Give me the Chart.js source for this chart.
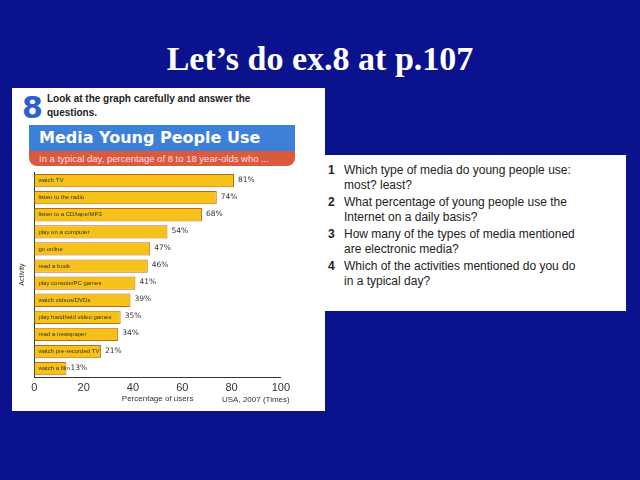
<!DOCTYPE html>
<html><head><meta charset="utf-8">
<script src="https://cdn.jsdelivr.net/npm/chart.js@4"></script>
<style>
body{margin:0;width:640px;height:480px;background:#0a128e;position:relative;overflow:hidden;font-family:"Liberation Sans",Arial,sans-serif}
#t{position:absolute;top:40px;width:640px;text-align:center;color:#fff;font:bold 34px "Liberation Serif",serif}
#p1{position:absolute;left:12px;top:88px;width:313px;height:323px;background:#fff}
#p2{position:absolute;left:322px;top:155px;width:304px;height:156px;background:#fff;font-size:12px;color:#222;line-height:15px}
.q{position:absolute;left:6px}
.q b{display:inline-block;width:16px}
#ban{position:absolute;left:29px;top:125px;width:266px;height:26px;background:#3d80d8;color:#fff;font:bold 16px "DejaVu Sans",sans-serif;line-height:26px;padding-left:10px;box-sizing:border-box}
#sub{position:absolute;left:29px;top:151px;width:266px;height:15px;background:#d95a3c;color:#fde;font-size:9.5px;line-height:15px;padding-left:10px;box-sizing:border-box;border-radius:0 0 8px 8px}
#c{position:absolute;left:18px;top:172px}
</style></head><body>
<div id="t">Let’s do ex.8 at p.107</div>
<div id="p1"></div>
<div style="position:absolute;left:22px;top:90px;color:#2a62c8;font:bold 30px 'DejaVu Sans'">8</div>
<div style="position:absolute;left:47px;top:92px;font-size:10px;color:#222;line-height:14px;font-weight:bold">Look at the graph carefully and answer the<br>questions.</div>
<div id="ban">Media Young People Use</div>
<div id="sub">In a typical day, percentage of 8 to 18 year-olds who ...</div>
<canvas id="c" width="272" height="236" style="width:272px;height:236px"></canvas>
<div style="position:absolute;left:222px;top:395px;font-size:8px;color:#333">USA, 2007 (Times)</div>
<div id="p2">
<div class="q" style="top:8px"><b>1</b>Which type of media do young people use:<br><b></b>most? least?</div>
<div class="q" style="top:40px"><b>2</b>What percentage of young people use the<br><b></b>Internet on a daily basis?</div>
<div class="q" style="top:72px"><b>3</b>How many of the types of media mentioned<br><b></b>are electronic media?</div>
<div class="q" style="top:104px"><b>4</b>Which of the activities mentioned do you do<br><b></b>in a typical day?</div>
</div>
<script>
const categories=["watch TV","listen to the radio","listen to a CD/tape/MP3","play on a computer","go online","read a book","play console/PC games","watch videos/DVDs","play handheld video games","read a newspaper","watch pre-recorded TV","watch a film"];
const values=[81,74,68,54,47,46,41,39,35,34,27,13];
const valueLabels=["81%","74%","68%","54%","47%","46%","41%","39%","35%","34%","21%","13%"];
const xTicks=[0,20,40,60,80,100];
const lab={id:'lab',afterDatasetsDraw(ch){const c=ch.ctx,m=ch.getDatasetMeta(0);c.save();c.textBaseline='middle';
m.data.forEach((b,i)=>{c.fillStyle='#333';c.font='6px "Liberation Sans Narrow","Liberation Sans"';c.textAlign='left';c.fillText(categories[i],b.base+4,b.y);
c.font='7.5px "DejaVu Sans"';c.fillText(valueLabels[i],b.x+4,b.y-1);});c.restore();}};
new Chart(document.getElementById('c'),{type:'bar',data:{labels:categories,datasets:[{data:values,backgroundColor:'#f6c21a',borderColor:'#c26a10',borderWidth:1,barPercentage:0.78,categoryPercentage:1}]},
options:{indexAxis:'y',responsive:false,animation:false,layout:{padding:{right:6}},plugins:{legend:{display:false},tooltip:{enabled:false}},
scales:{x:{min:0,max:100,afterBuildTicks(a){a.ticks=xTicks.map(v=>({value:v}));},grid:{display:false,drawTicks:true,tickLength:4,color:'#333'},border:{color:'#333'},ticks:{color:'#333',font:{size:11},padding:0},title:{display:true,text:'Percentage of users',color:'#333',font:{size:8},padding:{top:0}}},
y:{ticks:{display:false},grid:{display:false},border:{color:'#333'},title:{display:true,text:'Activity',color:'#333',font:{size:7},padding:0}}}},plugins:[lab]});
</script></body></html>
